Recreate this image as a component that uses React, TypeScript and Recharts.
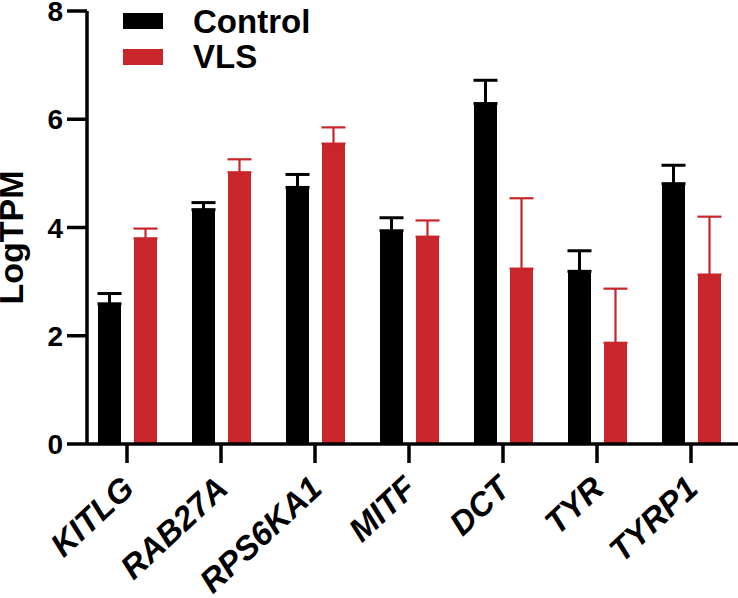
import React from "react";
import { BarChart, Bar, XAxis, YAxis, ErrorBar, Legend } from "recharts";

const genes = ["KITLG", "RAB27A", "RPS6KA1", "MITF", "DCT", "TYR", "TYRP1"];
const controlValues = [2.59, 4.33, 4.74, 3.94, 6.29, 3.19, 4.81];
const controlErrors = [0.19, 0.13, 0.24, 0.24, 0.43, 0.38, 0.34];
const vlsValues = [3.8, 5.02, 5.55, 3.83, 3.24, 1.87, 3.13];
const vlsErrors = [0.18, 0.24, 0.3, 0.3, 1.3, 1.0, 1.07];
const yTicks = [0, 2, 4, 6, 8];

const BLACK = "#000000";
const RED = "#c8262b";
const FONT = '"Liberation Sans", Arial, Helvetica, sans-serif';

const data = genes.map((g, i) => ({
  gene: g,
  control: controlValues[i],
  controlErr: [0, controlErrors[i]],
  vls: vlsValues[i],
  vlsErr: [0, vlsErrors[i]],
}));

const XTick = (props: any) => {
  const { x, y, payload } = props;
  const px = x + 9;
  const py = y + 26;
  return (
    <text
      x={px}
      y={py}
      transform={`rotate(-43, ${px}, ${py})`}
      textAnchor="end"
      fontFamily={FONT}
      fontWeight="bold"
      fontStyle="italic"
      fontSize={33}
      fill="#000"
    >
      {payload.value}
    </text>
  );
};

const YTick = (props: any) => {
  const { x, y, payload } = props;
  return (
    <text
      x={x}
      y={y}
      dy={10}
      textAnchor="end"
      fontFamily={FONT}
      fontWeight="bold"
      fontSize={28}
      fill="#000"
    >
      {payload.value}
    </text>
  );
};

const YLabel = (props: any) => {
  const vb = props.viewBox || { x: 0, y: 11, width: 87, height: 433 };
  const cx = vb.x + 23;
  const cy = vb.y + vb.height / 2 + 10;
  return (
    <text
      x={cx}
      y={cy}
      transform={`rotate(-90, ${cx}, ${cy})`}
      textAnchor="middle"
      fontFamily={FONT}
      fontWeight="bold"
      fontSize={34}
      fill="#000"
    >
      LogTPM
    </text>
  );
};

const LegendContent = () => {
  const items = [
    { name: "Control", color: BLACK },
    { name: "VLS", color: RED },
  ];
  return (
    <div style={{ fontFamily: FONT }}>
      {items.map((it) => (
        <div
          key={it.name}
          style={{ display: "flex", alignItems: "center", height: 35.5 }}
        >
          <div style={{ width: 40, height: 16, background: it.color, marginRight: 30 }} />
          <span style={{ fontSize: 33, fontWeight: "bold", color: "#000", lineHeight: "35px" }}>
            {it.name}
          </span>
        </div>
      ))}
    </div>
  );
};

export default function App() {
  return (
    <div style={{ position: "absolute", left: 0, top: 0, width: 738, height: 598, background: "#fff" }}>
      <BarChart
        width={738}
        height={598}
        data={data}
        margin={{ top: 11, right: 0, bottom: 0, left: 0 }}
        barSize={23}
        barGap={13}
      >
        <XAxis
          dataKey="gene"
          height={154}
          interval={0}
          padding={{ left: -7, right: 0 }}
          axisLine={{ stroke: "#000", strokeWidth: 3.5 }}
          tickLine={{ stroke: "#000", strokeWidth: 3.5 }}
          tickSize={19}
          tick={<XTick />}
        />
        <YAxis
          width={87}
          domain={[0, 8]}
          ticks={yTicks}
          interval={0}
          axisLine={{ stroke: "#000", strokeWidth: 3.5 }}
          tickLine={{ stroke: "#000", strokeWidth: 3.5 }}
          tickSize={20}
          tickMargin={4}
          tick={<YTick />}
          label={<YLabel />}
        />
        <Legend
          layout="horizontal"
          verticalAlign="middle"
          align="center"
          content={<LegendContent />}
          wrapperStyle={{ position: "absolute", left: 123, top: 3.5, width: 250, height: 72 }}
        />
        <Bar dataKey="control" fill={BLACK} isAnimationActive={false}>
          <ErrorBar dataKey="controlErr" width={12} strokeWidth={3} stroke={BLACK} direction="y" isAnimationActive={false} />
        </Bar>
        <Bar dataKey="vls" fill={RED} isAnimationActive={false}>
          <ErrorBar dataKey="vlsErr" width={12} strokeWidth={2.2} stroke={RED} direction="y" isAnimationActive={false} />
        </Bar>
      </BarChart>
    </div>
  );
}
